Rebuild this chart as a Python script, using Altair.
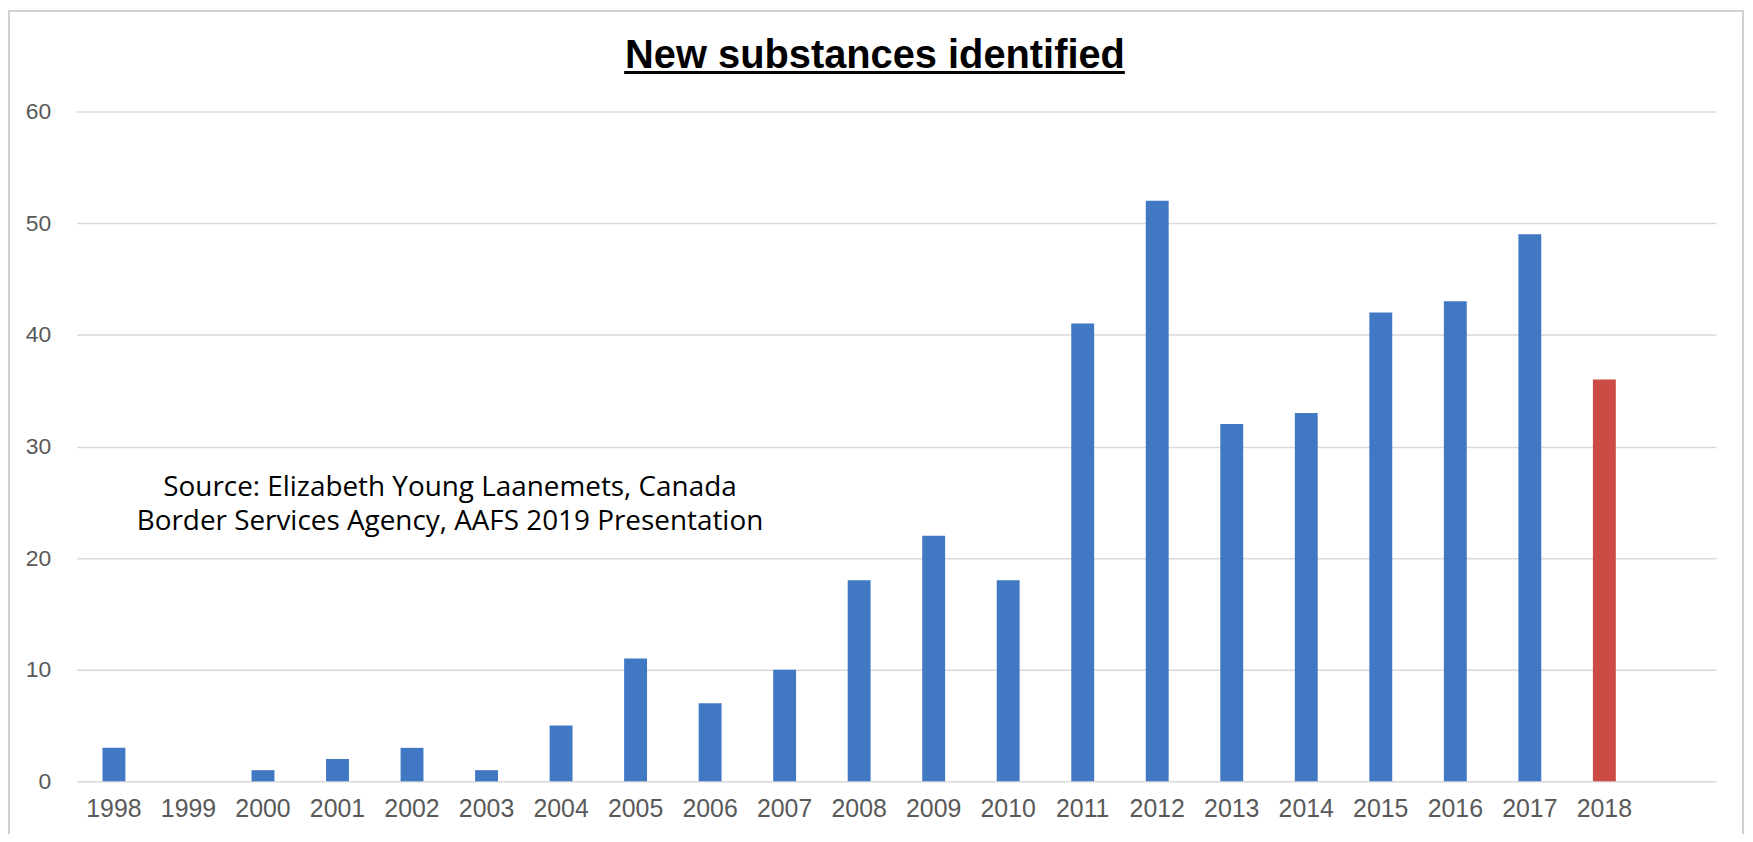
import altair as alt
import pandas as pd

years = [str(y) for y in range(1998, 2019)]
counts = [3, 0, 1, 2, 3, 1, 5, 11, 7, 10, 18, 22, 18, 41, 52, 32, 33, 42, 43, 49, 36]
highlight = ["past"] * 20 + ["current"]
domain_x = years + [" "]

title_text = "New substances identified"
source_lines = ["Source: Elizabeth Young Laanemets, Canada",
                "Border Services Agency, AAFS 2019 Presentation"]

df = pd.DataFrame({"year": years, "count": counts, "kind": highlight})

W, H = 1647, 673

bars = alt.Chart(df).mark_bar(size=23).encode(
    x=alt.X("year:N", scale=alt.Scale(domain=domain_x), sort=None,
            axis=alt.Axis(title=None, labelAngle=0, ticks=False, domain=False,
                          labelFontSize=25, labelColor="#595959", labelFont="Liberation Sans",
                          labelPadding=15, grid=False)),
    y=alt.Y("count:Q", scale=alt.Scale(domain=[0, 60]),
            axis=alt.Axis(title=None, values=[0, 10, 20, 30, 40, 50, 60], ticks=False, domain=False,
                          labelFontSize=23, labelColor="#595959", labelFont="Liberation Sans",
                          labelPadding=26, gridColor="#d9d9d9", gridWidth=1.5)),
    color=alt.Color("kind:N", scale=alt.Scale(domain=["past", "current"], range=["#4178C4", "#CC4B44"]),
                    legend=None),
)

ann = pd.DataFrame({"a": [0]})
frame = alt.Chart(ann).mark_rect(fill="transparent", stroke="#d0d0d0", strokeWidth=2).encode(
    x=alt.value(-68), x2=alt.value(1674), y=alt.value(-101), y2=alt.value(760))
title = alt.Chart(ann).mark_text(text=title_text, font="Liberation Sans", fontWeight="bold",
                                 fontSize=40, color="#000000", align="center", baseline="middle").encode(
    x=alt.value(802), y=alt.value(-56))
underline = alt.Chart(ann).mark_rule(color="#000000", strokeWidth=3).encode(
    x=alt.value(550), x2=alt.value(1053), y=alt.value(-39))
source = alt.Chart(ann).mark_text(text=source_lines, font="Open Sans", fontSize=28, lineHeight=35,
                                  color="#000000", align="center", baseline="middle").encode(
    x=alt.value(375), y=alt.value(378))

chart = alt.layer(frame, bars, title, underline, source).properties(
    width=W, height=H,
    padding={"left": 69, "top": 102, "right": 29, "bottom": 51},
    autosize=alt.AutoSizeParams(type="none"),
    background="white",
).configure_view(stroke=None)

chart.save("out.html", embed_options={"renderer": "svg", "actions": False})
